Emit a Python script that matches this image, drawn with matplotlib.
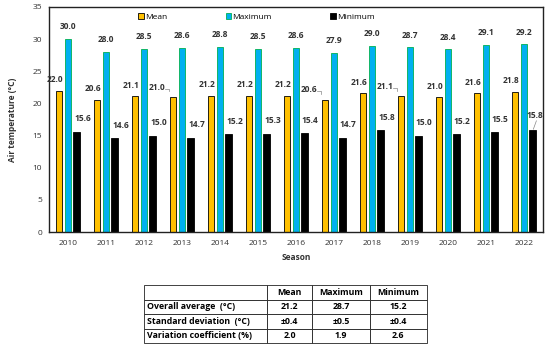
import numpy as np
import matplotlib.pyplot as plt

# data
seasons = ["2010", "2011", "2012", "2013", "2014", "2015", "2016",
           "2017", "2018", "2019", "2020", "2021", "2022"]
mean_t = [22.0, 20.6, 21.1, 21.0, 21.2, 21.2, 21.2, 20.6, 21.6, 21.1, 21.0, 21.6, 21.8]
max_t = [30.0, 28.0, 28.5, 28.6, 28.8, 28.5, 28.6, 27.9, 29.0, 28.7, 28.4, 29.1, 29.2]
min_t = [15.6, 14.6, 15.0, 14.7, 15.2, 15.3, 15.4, 14.7, 15.8, 15.0, 15.2, 15.5, 15.8]

table_cols = ["", "Mean", "Maximum", "Minimum"]
table_rows = [
    ["Overall average  (°C)", "21.2", "28.7", "15.2"],
    ["Standard deviation  (°C)", "±0.4", "±0.5", "±0.4"],
    ["Variation coefficient (%)", "2.0", "1.9", "2.6"],
]

plt.rcParams['font.family'] = ['Open Sans', 'DejaVu Sans']

fig = plt.figure(figsize=(5.5, 3.48), dpi=100)
ax = fig.add_axes([0.089, 0.333, 0.898, 0.647])

x = np.arange(len(seasons))
w = 0.17
step = 0.23
c_mean = "#FFC000"
c_max = "#00B0F0"
c_min = "#000000"

ax.bar(x - step, mean_t, w, color=c_mean, edgecolor="black", linewidth=0.6, label="Mean")
ax.bar(x, max_t, w, color=c_max, edgecolor="#00B050", linewidth=0.6, label="Maximum")
ax.bar(x + step, min_t, w, color=c_min, edgecolor="black", linewidth=0.6, label="Minimum")

lab = dict(fontsize=6, fontweight="bold", color="#333333", ha="center", va="bottom")
leader_mean = [3, 7, 9]  # mean labels with a small leader line
for i in range(len(seasons)):
    if i in leader_mean:
        tx = x[i] - step - 0.42
        ax.text(tx, mean_t[i] + 0.8, "%.1f" % mean_t[i], **lab)
        ax.plot([tx + 0.2, tx + 0.3, tx + 0.3], [mean_t[i] + 1.3, mean_t[i] + 1.3, mean_t[i] + 0.9],
                color="#888888", lw=0.5)
    else:
        ax.text(x[i] - step - 0.12, mean_t[i] + 1.0, "%.1f" % mean_t[i], **lab)
    ax.text(x[i], max_t[i] + 1.2, "%.1f" % max_t[i], **lab)
    if i == len(seasons) - 1:
        # last label sits just inside the frame with a short leader
        ax.text(x[i] + step + 0.05, min_t[i] + 1.6, "%.1f" % min_t[i], **lab)
        ax.plot([x[i] + step + 0.02, x[i] + step + 0.1], [min_t[i] + 0.2, min_t[i] + 1.5],
                color="#888888", lw=0.5)
    else:
        ax.text(x[i] + step + 0.15, min_t[i] + 1.3, "%.1f" % min_t[i], **lab)

ax.set_xlim(-0.5, len(seasons) - 0.5)
ax.set_ylim(0, 35)
ax.set_yticks(np.arange(0, 36, 5))
ax.set_xticks(x)
ax.set_xticklabels(seasons)
ax.tick_params(axis="both", length=0, labelsize=6, labelcolor="#333333")
ax.tick_params(axis="y", pad=5)
ax.tick_params(axis="x", pad=6)
for s in ax.spines.values():
    s.set_linewidth(1.0)
    s.set_color("#222222")

ax.set_xlabel("Season", fontsize=6, fontweight="bold", color="#333333", labelpad=4)
ax.set_ylabel("Air temperature (°C)", fontsize=6, fontweight="bold", color="#333333", labelpad=11)

ax.legend(loc="center", bbox_to_anchor=(0.42, 0.955), ncol=3, frameon=False,
          fontsize=6, handlelength=0.7, handleheight=0.7, handletextpad=0.1,
          columnspacing=7)

# summary table below the chart
tab_ax = fig.add_axes([0.262, 0.014, 0.514, 0.167])
tab_ax.axis("off")
tbl = tab_ax.table(cellText=table_rows, colLabels=table_cols,
                   colWidths=[123, 45, 58, 57], loc="center", bbox=[0, 0, 1, 1])
tbl.auto_set_font_size(False)
for (r, c), cell in tbl.get_celld().items():
    cell.set_linewidth(0.6)
    cell.set_edgecolor("#222222")
    cell.get_text().set_fontsize(6.3)
    cell.get_text().set_fontweight("bold")
    if c == 0:
        cell.get_text().set_ha("left")
        cell.PAD = 0.02
    else:
        cell.get_text().set_ha("center")

fig.savefig("out.png", dpi=100)
